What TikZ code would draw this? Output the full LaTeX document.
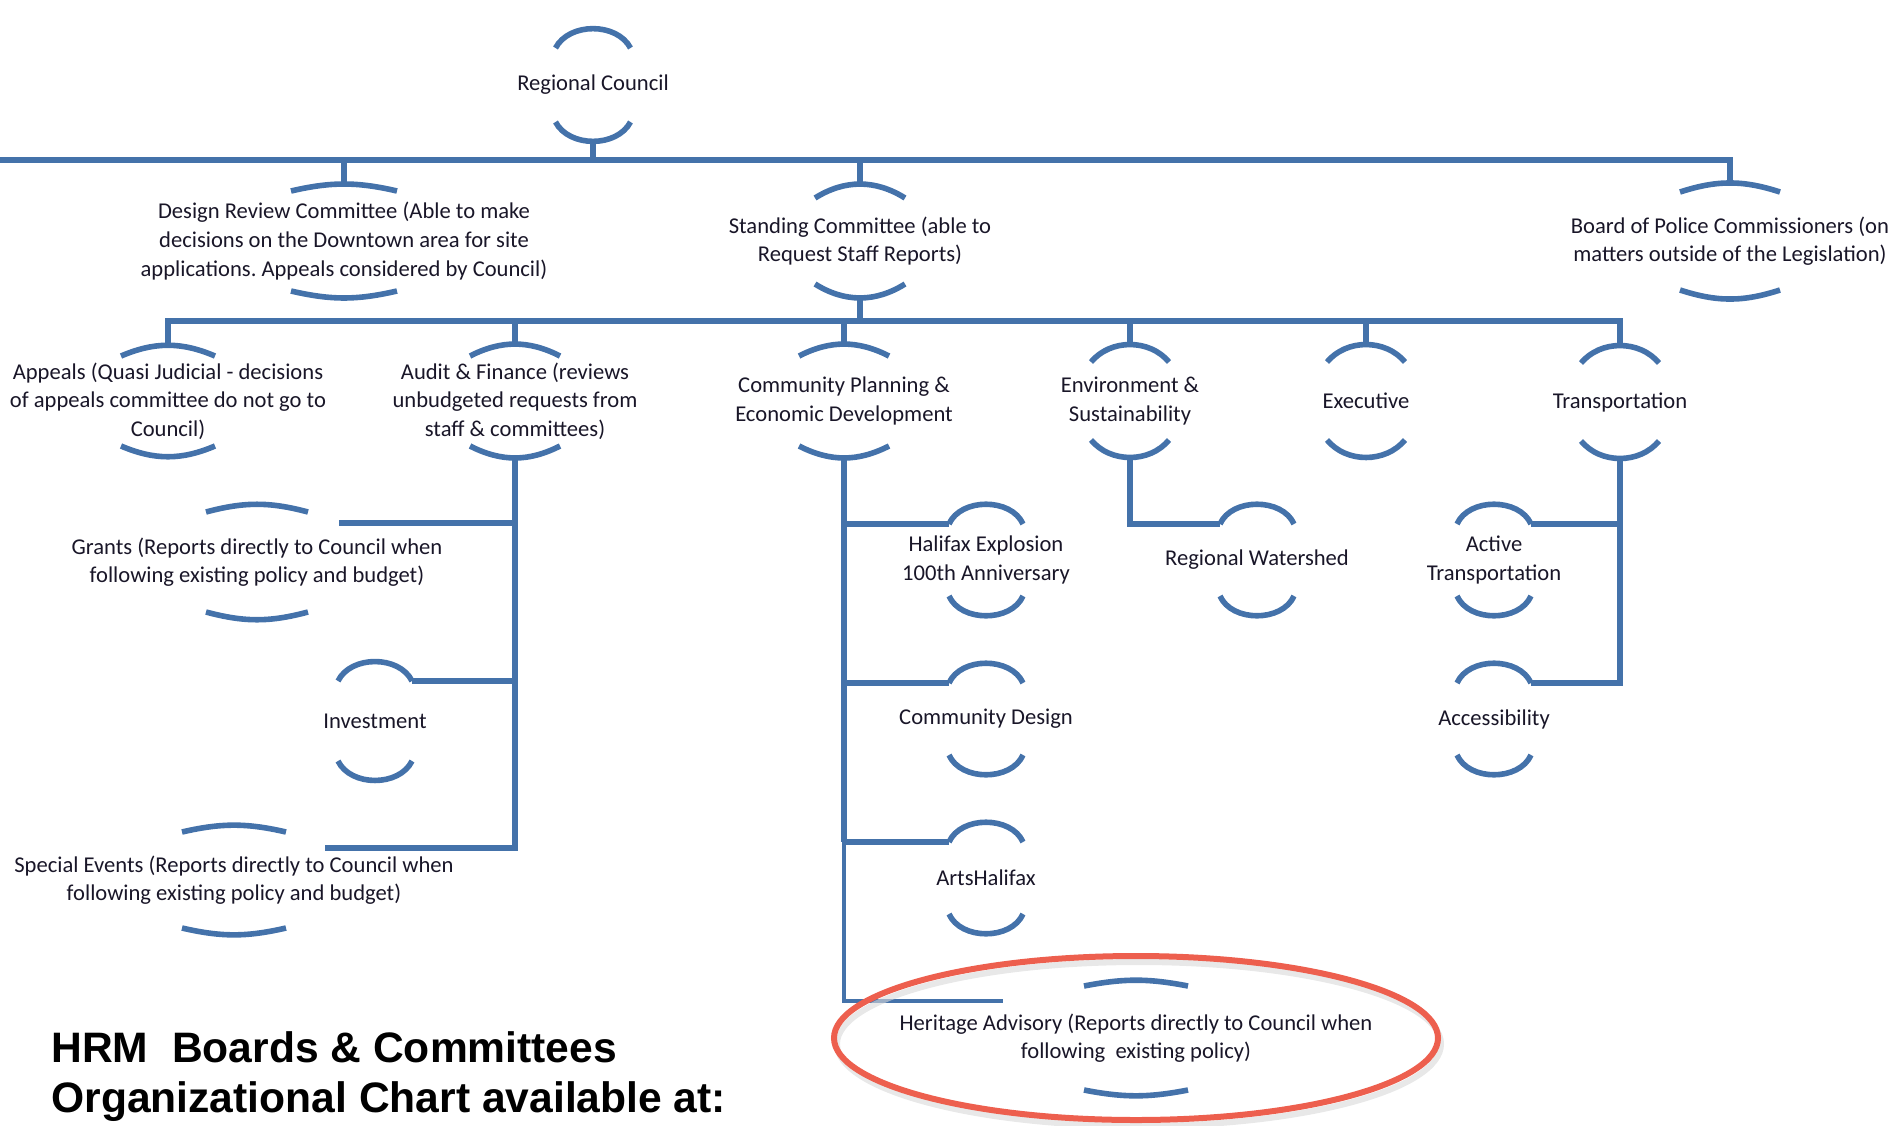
\documentclass[tikz,border=0pt]{standalone}
\usepackage{fontspec}
\setmainfont{Carlito}
\newfontfamily\headfont{Liberation Sans}
\usetikzlibrary{calc,positioning}
\frenchspacing

\definecolor{hrmblue}{RGB}{68,114,170}
\definecolor{hrmred}{RGB}{237,95,78}
\definecolor{hrmtext}{RGB}{25,22,40}

% top and bottom arc round a committee: name, half width, half height, bend
\newcommand{\arcpair}[4]{%
  \draw[arcline] ($(#1)+(-#2,-#3)$) coordinate (#1-tl) to[bend left=#4] coordinate[pos=.5] (#1-t) ($(#1)+(#2,-#3)$) coordinate (#1-tr);
  \draw[arcline] ($(#1)+(-#2,#3)$) coordinate (#1-bl) to[bend right=#4] coordinate[pos=.5] (#1-b) ($(#1)+(#2,#3)$) coordinate (#1-br);}

\begin{document}
\begin{tikzpicture}[x=0.5pt,y=-0.5pt,
	every node/.style={font=\fontsize{11.3}{14.3}\selectfont,text=hrmtext,align=center,inner sep=0pt},
	arcline/.style={draw=hrmblue,line width=2.8pt},
	bus/.style={draw=hrmblue,line width=3.2pt},
	conn/.style={draw=hrmblue,line width=2.6pt},
	thinconn/.style={draw=hrmblue,line width=1.6pt},
	hilite/.style={draw=hrmred,line width=3pt},
	node distance=79.5pt,on grid]
		\useasboundingbox (0,0) rectangle (1895,1125);
		% council and first level
		\node (rc) at (593,85) {Regional Council};
		\node (drc) at (344,241) {Design Review Committee (Able to make\\decisions on the Downtown area for site\\applications. Appeals considered by Council)};
		\node (sc) at (860,241) {Standing Committee (able to\\Request Staff Reports)};
		\node (bpc) at (1730,241) {Board of Police Commissioners (on\\matters outside of the Legislation)};
		% standing committees
		\node (ap) at (168,401) {Appeals (Quasi Judicial - decisions\\of appeals committee do not go to\\Council)};
		\node (af) at (515,401) {Audit \& Finance (reviews\\unbudgeted requests from\\staff \& committees)};
		\node (cped) at (844,401) {Community Planning \&\\Economic Development};
		\node (es) at (1130,401) {Environment \&\\Sustainability};
		\node (ex) at (1366,401) {Executive};
		\node (tr) at (1620,402) {Transportation};
		% under audit & finance
		\node (gr) at (257,562) {Grants (Reports directly to Council when\\following existing policy and budget)};
		\node (inv) at (375,721) {Investment};
		\node (se) at (234,880) {Special Events (Reports directly to Council when\\following existing policy and budget)};
		% under community planning
		\node (hx) at (986,560) {Halifax Explosion\\100th Anniversary};
		\node[below=of hx] (cd) {Community Design};
		\node[below=of cd] (ah) {ArtsHalifax};
		\node (ha) at (1136,1038) {Heritage Advisory (Reports directly to Council when\\following~ existing policy)};
		% under environment and transportation
		\node (rw) at (1257,560) {Regional Watershed};
		\node (at) at (1494,560) {Active\\Transportation};
		\node[below=of at] (acc) {Accessibility};

		\arcpair{rc}{37.5}{37}{62}
		\arcpair{drc}{53}{50}{13}
		\arcpair{sc}{45}{43}{32}
		\arcpair{bpc}{50}{49}{18}
		\arcpair{ap}{47}{45}{23}
		\arcpair{af}{45}{45}{27}
		\arcpair{cped}{45}{45}{27}
		\foreach \n in {es,ex,tr} {\arcpair{\n}{39}{39}{50}}
		\arcpair{gr}{51}{50}{15}
		\arcpair{inv}{37}{40}{64}
		\arcpair{se}{52}{48}{13}
		\foreach \n in {hx,cd,ah,rw,at,acc} {\arcpair{\n}{37}{36}{66}}
		\arcpair{ha}{52}{52}{11}

		% buses
		\coordinate (bus1) at (0,160);
		\coordinate (bus2) at (0,321);
		\draw[bus] (bus1) -| (bpc-t);
		\draw[bus] (rc-b) -- (rc-b |- bus1);
		\draw[bus] (drc-t) -- (drc-t |- bus1);
		\draw[bus] (sc-t) -- (sc-t |- bus1);
		\draw[bus] (sc-b) -- (sc-b |- bus2);
		\draw[bus] (ap-t) |- (tr-t |- bus2) -- (tr-t);
		\foreach \n in {af,cped,es,ex} {\draw[bus] (\n-t) -- (\n-t |- bus2);}

		% lower branches
		\coordinate (gr-in) at (339,523);
		\coordinate (se-in) at (325,848);
		\coordinate (ha-in) at (1003,1001);
		\draw[conn] (af-b) |- (se-in);
		\draw[conn] (af-b |- gr-in) -- (gr-in);
		\draw[conn] (af-b |- inv-tr) -- (inv-tr);
		\draw[conn] (cped-b) -- (cped-b |- ah-tl);
		\foreach \n in {hx,cd,ah} {\draw[conn] (cped-b |- \n-tl) -- (\n-tl);}
		\draw[thinconn] (cped-b |- ah-tl) |- (ha-in);
		\draw[conn] (es-b) |- (rw-tl);
		\draw[conn] (tr-b) |- (acc-tr);
		\draw[conn] (tr-b |- at-tr) -- (at-tr);

		% highlight
		\draw[gray!30,line width=3pt,opacity=.6] ([shift={(3,6)}]ha.center) ellipse [x radius=302,y radius=82];
		\draw[hilite] (ha) ellipse [x radius=302,y radius=82];

		\node[font=\headfont\bfseries\fontsize{21.3}{25}\selectfont,text=black,align=left,anchor=north west] (title) at (51,1031) {HRM~ Boards \& Committees\\Organizational Chart available at:};
	\end{tikzpicture}
\end{document}
